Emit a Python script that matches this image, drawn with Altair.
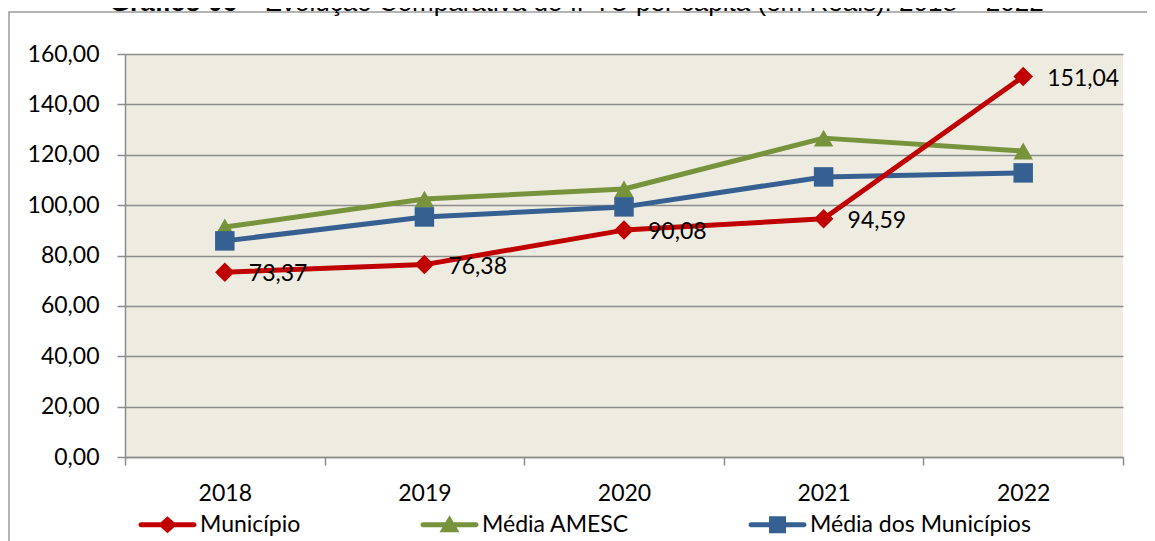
import altair as alt
import pandas as pd

# ---------------- data ----------------
years = ["2018", "2019", "2020", "2021", "2022"]
series_names = ["Município", "Média AMESC", "Média dos Municípios"]
municipio = [73.37, 76.38, 90.08, 94.59, 151.04]
media_amesc = [91.3, 102.4, 106.4, 126.6, 121.5]
media_municipios = [85.8, 95.3, 99.3, 111.2, 112.8]
y_ticks = [0, 20, 40, 60, 80, 100, 120, 140, 160]
colors = ["#C00000", "#77933C", "#376092"]
title_bold = "Gráfico 06"
title_rest = "– Evolução Comparativa do IPTU per capita (em Reais): 2018 – 2022"

# drawing order: red series last so it lies on top
rows = []
for name, vals in [("Média AMESC", media_amesc),
                   ("Média dos Municípios", media_municipios),
                   ("Município", municipio)]:
    for yr, v in zip(years, vals):
        rows.append({"ano": yr, "serie": name, "valor": v,
                     "rotulo": f"{v:.2f}".replace(".", ",")})
df = pd.DataFrame(rows)

FONT = "Lato"
FS = 23
GRID = "#8C8C8C"

color_scale = alt.Scale(domain=series_names, range=colors)
x_enc = alt.X("ano:N", sort=years,
              scale=alt.Scale(paddingInner=0, paddingOuter=0),
              axis=alt.Axis(title=None, labelAngle=0, tickBand="extent",
                            tickSize=8, tickColor=GRID, tickWidth=1.5,
                            domainColor=GRID, domainWidth=1.5,
                            labelPadding=17, labelFont=FONT, labelFontSize=FS,
                            labelColor="black", grid=False))
y_enc = alt.Y("valor:Q",
              scale=alt.Scale(domain=[0, 160], nice=False),
              axis=alt.Axis(title=None, values=y_ticks,
                            labelExpr="replace(format(datum.value, '.2f'), '.', ',')",
                            tickSize=8, tickColor=GRID, tickWidth=1.5,
                            domainColor=GRID, domainWidth=1.5,
                            gridColor=GRID, gridWidth=1.5,
                            labelPadding=18, labelFont=FONT, labelFontSize=FS,
                            labelColor="black"))

base = alt.Chart(df)

lines = base.mark_line(strokeWidth=5, strokeJoin="round", strokeCap="round").encode(
    x=x_enc, y=y_enc,
    color=alt.Color("serie:N", scale=color_scale, legend=None),
)

points = base.mark_point(filled=True, size=380, opacity=1).encode(
    x=x_enc, y=y_enc,
    color=alt.Color("serie:N", scale=color_scale, legend=None),
    shape=alt.Shape("serie:N", scale=alt.Scale(domain=series_names,
                                               range=["diamond", "triangle-up", "square"]),
                    legend=None),
)

# legend symbols: line with marker
line_path = ("M-2.65,-0.25 L2.65,-0.25 A0.25,0.25 0 0 1 2.65,0.25 "
             "L-2.65,0.25 A0.25,0.25 0 0 1 -2.65,-0.25 Z")
leg_shapes = [
    line_path + " M0,-0.85 L0.95,0 L0,0.85 L-0.95,0 Z",
    line_path + " M0,-0.95 L1,0.75 L-1,0.75 Z",
    line_path + " M-0.85,-0.85 L0.85,-0.85 L0.85,0.85 L-0.85,0.85 Z",
]
leg = alt.Legend(orient="none", legendX=31, legendY=459, direction="horizontal",
                 title=None, symbolSize=400, symbolStrokeWidth=0, symbolOpacity=1,
                 labelOffset=21, columnPadding=119, labelFont=FONT, labelLimit=400,
                 labelFontSize=FS, labelColor="black", padding=0)
legend_layer = base.mark_point(filled=True, opacity=0).encode(
    x=x_enc, y=y_enc,
    color=alt.Color("serie:N", scale=color_scale, legend=leg),
    shape=alt.Shape("serie:N", scale=alt.Scale(domain=series_names, range=leg_shapes),
                    legend=leg),
)

labels = base.transform_filter(alt.datum.serie == "Município").mark_text(
    align="left", baseline="middle", dx=24, dy=2, font=FONT, fontSize=FS, color="black"
).encode(x=x_enc, y=y_enc, text="rotulo:N")

one = pd.DataFrame({"k": [0]})
frame = alt.Chart(one).mark_rect(fillOpacity=0, stroke="#9C9C9C", strokeWidth=1.5).encode(
    x=alt.value(-116), x2=alt.value(1040), y=alt.value(-42), y2=alt.value(520)
)
t1 = alt.Chart(one).mark_text(text=title_bold, align="right", baseline="alphabetic",
                              font="Liberation Sans", fontSize=26, fontWeight="bold",
                              color="black").encode(x=alt.value(112), y=alt.value(-43))
t2 = alt.Chart(one).mark_text(text=title_rest, align="left", baseline="alphabetic",
                              font="Liberation Sans", fontSize=26,
                              color="black").encode(x=alt.value(118), y=alt.value(-43))

chart = alt.layer(frame, t1, t2, lines, points, legend_layer, labels).resolve_scale(
    color="independent", shape="independent"
).properties(
    width=998, height=403,
    padding={"left": 117, "top": 46, "right": 24, "bottom": 84},
    autosize=alt.AutoSizeParams(type="none"),
    background="white",
).configure_view(fill="#EEECE1", strokeWidth=0)

chart.save("out.html", embed_options={"renderer": "svg", "actions": False})
